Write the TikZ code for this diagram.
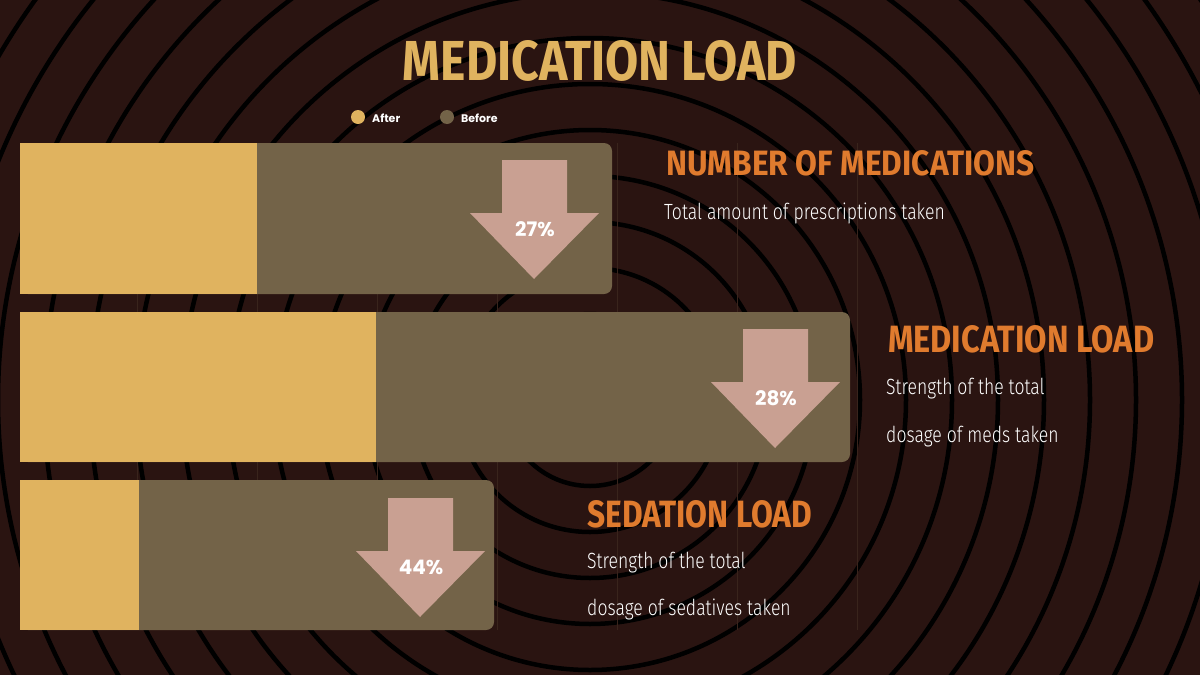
\documentclass[tikz,border=0pt]{standalone}
\usepackage{fontspec}
\setmainfont{Fira Sans}
\newfontfamily\boldf{Poppins Bold}
\newfontfamily\headf{Fira Sans}[FakeStretch=0.7]
\newfontfamily\descf{Fira Sans Light}[FakeStretch=0.8]
\definecolor{bgc}{HTML}{2A1411}
\definecolor{gold}{HTML}{E0B35F}
\definecolor{olive}{HTML}{736348}
\definecolor{pinkc}{HTML}{C9A092}
\definecolor{orng}{HTML}{E07B2E}
\tikzset{
 after/.style={fill=gold,draw=none},
 before/.style={fill=olive,draw=none,rounded corners=8pt},
 arr/.style={fill=pinkc,draw=none},
 pct/.style={text=white,font=\boldf\fontsize{20}{20}\selectfont},
 head/.style={text=orng,anchor=west,inner sep=0pt},
 desc/.style={text=white,anchor=west,inner sep=0pt,font=\descf\fontsize{22}{22}\selectfont},
}
\begin{document}
\begin{tikzpicture}[x=1pt,y=-1pt]
\fill[bgc] (0,0) rectangle (1200,675);
\useasboundingbox (0,0) rectangle (1200,675);
\begin{scope}
\clip (0,0) rectangle (1200,675);
\foreach \r in {40,86,...,980} \draw[black,line width=4.5pt] (590,400) circle (\r);
\end{scope}
% gridlines
\foreach \gx in {137,257,377,497,617,737,857} \draw[bgc!80!olive,line width=0.5pt] (\gx,143) -- (\gx,630);
% title
\node (title) at (600,61) {\resizebox{394pt}{40pt}{\color{gold}\headf\bfseries MEDICATION LOAD}};
% legend
\fill[gold] (358,117) circle (7);
\node[anchor=west,text=white,font=\boldf\fontsize{11}{11}\selectfont,inner sep=0pt] (la) at (372,118) {After};
\fill[olive] (447,117) circle (7);
\node[anchor=west,text=white,font=\boldf\fontsize{11}{11}\selectfont,inner sep=0pt] (lb) at (461,118) {Before};
% bars
\fill[before] (20,143) rectangle (612,294);
\fill[after] (20,143) rectangle (257,294);
\fill[before] (20,312) rectangle (850,462);
\fill[after] (20,312) rectangle (376,462);
\fill[before] (20,480) rectangle (494,630);
\fill[after] (20,480) rectangle (139,630);
% arrows
\foreach \ax/\ay/\t in {534/160/27\%,775/329/28\%,420/498/44\%}{
 \fill[arr] (\ax-32,\ay) -- (\ax+33,\ay) -- (\ax+33,\ay+53) -- (\ax+65,\ay+53) -- (\ax,\ay+119) -- (\ax-64,\ay+53) -- (\ax-32,\ay+53) -- cycle;
 \node[pct] at (\ax+1,\ay+69) {\t};
}
% headings
\node[head] (h1) at (666,163) {\resizebox{368pt}{25pt}{\headf\bfseries NUMBER OF MEDICATIONS}};
\node[head] (h2) at (888,339) {\resizebox{266pt}{27pt}{\headf\bfseries MEDICATION LOAD}};
\node[head] (h3) at (587,514) {\resizebox{225pt}{27pt}{\headf\bfseries SEDATION LOAD}};
\node[desc] (d1) at (664,213) {Total amount of prescriptions taken};
\node[desc] (d2) at (886,389) {Strength of the total};
\node[desc] (d3) at (886,437) {dosage of meds taken};
\node[desc] (d4) at (587,563) {Strength of the total};
\node[desc] (d5) at (587,609) {dosage of sedatives taken};
\end{tikzpicture}
\end{document}
